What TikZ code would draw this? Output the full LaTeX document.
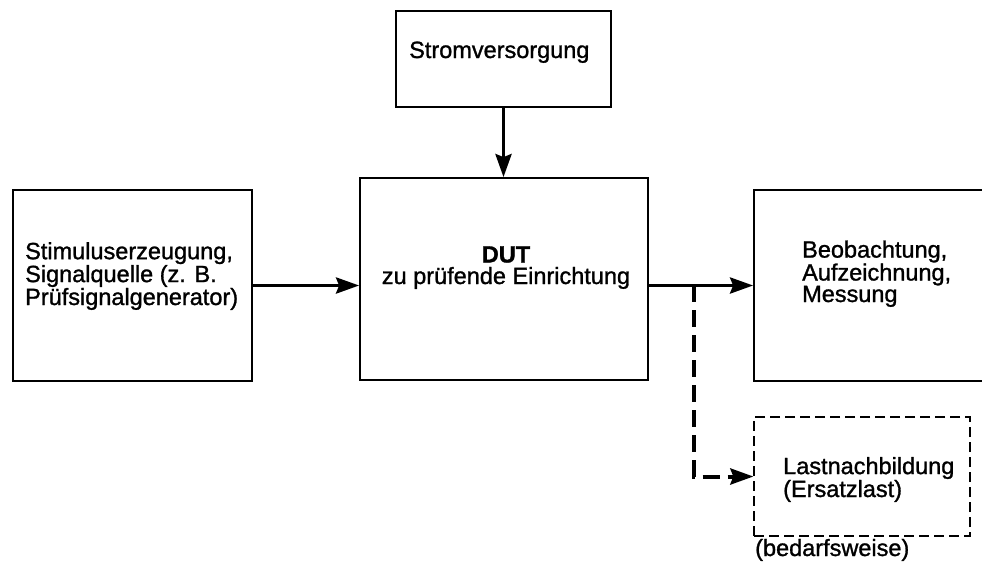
\documentclass[tikz,border=0pt]{standalone}
\usepackage{fontspec}
\setmainfont{Liberation Sans}[FakeBold=1.2,BoldFont={Liberation Sans Bold},BoldFeatures={FakeBold=1.2}]
\usetikzlibrary{arrows.meta}
\begin{document}
\begin{tikzpicture}[x=1pt,y=-1pt,
  box/.style={draw,line width=1.8pt,inner sep=0pt,rectangle},
  dbox/.style={draw,line width=1.2pt,inner sep=0pt,rectangle,dash pattern=on 10pt off 5pt},
  lbl/.style={inner sep=0pt,anchor=base west,align=left,font=\fontsize{23.5}{21.5}\selectfont},
  arr/.style={line width=3.5pt,-{Stealth[length=23pt,width=16pt,inset=3pt]}},
  darr/.style={line width=4pt,dash pattern=on 17pt off 8pt,-{Stealth[length=23pt,width=16pt,inset=3pt]}}]
\useasboundingbox (0,0) rectangle (982,563);
\clip (0,0) rectangle (982,563);
\node[box,minimum width=239pt,minimum height=191pt] (src) at (132.5,285.5) {};
\node[box,minimum width=215pt,minimum height=96pt] (pwr) at (503.5,59) {};
\node[box,minimum width=288pt,minimum height=202pt] (dut) at (504,279) {};
\node[box,minimum width=256pt,minimum height=191pt] (obs) at (882,285.5) {};
\node[dbox,minimum width=216pt,minimum height=119pt] (load) at (862,476.5) {};
\node[lbl] (srct) at (25,305) {Stimuluserzeugung,\\Signalquelle (z. B.\\Prüfsignalgenerator)};
\node[lbl] (pwrt) at (409,58) {Stromversorgung};
\node[lbl,anchor=base,align=center] (dutt) at (506,284) {\textbf{DUT}\\zu prüfende Einrichtung};
\node[lbl] (obst) at (802,302) {Beobachtung,\\Aufzeichnung,\\Messung};
\node[lbl] (loadt) at (783,497) {Lastnachbildung\\(Ersatzlast)};
\node[lbl] (need) at (755,556) {(bedarfsweise)};
\coordinate (split) at (694,285);
\draw[arr] (pwr.south) -- (pwr.south |- dut.north);
\draw[arr] (src.east) -- (src.east -| dut.west);
\draw[arr] (src.east -| dut.east) -- (src.east -| obs.west);
\draw[darr] (split) |- (load.west);
\end{tikzpicture}
\end{document}
